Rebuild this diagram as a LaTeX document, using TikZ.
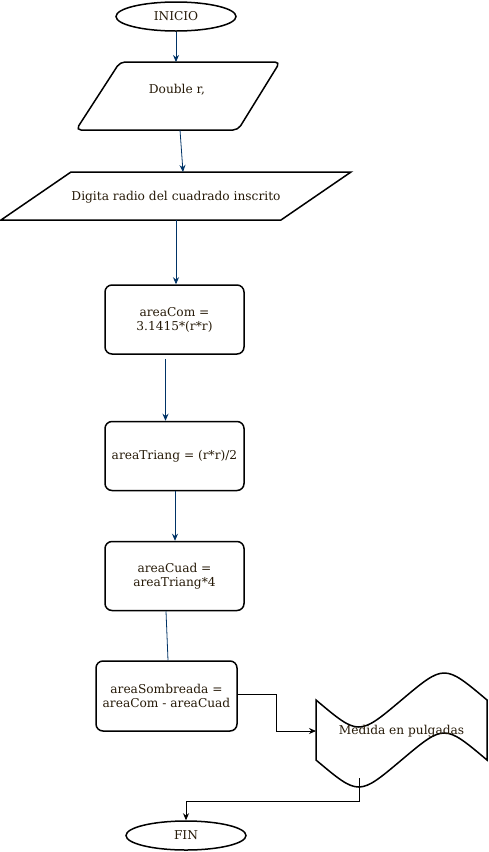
\documentclass[tikz,border=0pt]{standalone}
\usepackage{fontspec}
\setmainfont{DejaVu Serif}
\usetikzlibrary{shapes.geometric,arrows.meta}
\definecolor{azulflecha}{RGB}{0,51,102}
\definecolor{texto}{RGB}{38,26,8}
\begin{document}
\begin{tikzpicture}[x=1pt,y=-1pt,
        font=\fontsize{12.2}{14}\selectfont,
        terminal/.style={ellipse,draw,line width=1.5pt,minimum width=120pt,minimum height=29pt,inner sep=0pt,text=texto},
        caja/.style={rectangle,draw,rounded corners=7pt,line width=1.5pt,minimum width=139pt,minimum height=69pt,align=center,text=texto,inner sep=1pt},
        flecha/.style={azulflecha,line width=0.8pt,-{Stealth[length=7pt,width=6pt]}},
        linea/.style={black,line width=0.8pt}]
        \useasboundingbox (0,0) rectangle (488,852);
        %Inicio
        \node[terminal] (inicio) at (176,16.5) {INICIO};
        %Entrada de datos
        \draw[line width=1.5pt,rounded corners=5pt] (120,62) -- (280,62) -- (238,130) -- (76,130) -- cycle;
        \node[text=texto] (double) at (177,90) {Double r,};
        \coordinate (doubleArr) at (176,62);
        \coordinate (doubleAba) at (180,130);
        \draw[line width=1.5pt] (71,172) -- (351,172) -- (281,220) -- (1,220) -- cycle;
        \node[text=texto] (digita) at (176,197) {Digita radio del cuadrado inscrito};
        \coordinate (digitaArr) at (183,172);
        \coordinate (digitaAba) at (176,220);
        %Procesos
        \foreach \nom/\y/\txt in {areaCom/319.5/{areaCom =\\3.1415*(r*r)},
                areaTriang/456/{areaTriang = (r*r)/2},
                areaCuad/576/{areaCuad =\\areaTriang*4}}
            \node[caja] (\nom) at (174.5,\y) {\txt};
        \node[caja,minimum width=141pt,minimum height=70pt] (areaSom) at (166.5,696) {areaSombreada =\\areaCom - areaCuad};
        %Salida
        \draw[line width=1.5pt] (316,700) .. controls (358.75,736) .. (401.5,700)
            .. controls (444.25,664) .. (487,700) -- (487,760)
            .. controls (444.25,724) .. (401.5,760)
            .. controls (358.75,796) .. (316,760) -- cycle;
        \node[text=texto] (medida) at (401.5,731) {Medida en pulgadas};
        \coordinate (medidaIzq) at (316,731);
        \coordinate (medidaAba) at (359,778);
        %Fin
        \node[terminal] (fin) at (186,835.5) {FIN};
        %Conectores
        \draw[flecha] (inicio.south) -- (doubleArr);
        \draw[flecha] (doubleAba) -- (digitaArr);
        \draw[flecha] (digitaAba) -- (digitaAba |- areaCom.north);
        \draw[flecha] ([xshift=-9pt,yshift=-4pt]areaCom.south) -- ([xshift=-9pt]areaTriang.north);
        \draw[flecha] ([xshift=0.5pt]areaTriang.south) -- ([xshift=0.5pt]areaCuad.north);
        \draw[azulflecha,line width=0.8pt] ([xshift=-8.5pt]areaCuad.south) -- ([xshift=1.5pt]areaSom.north);
        \draw[linea,-{Stealth[length=7pt,width=6pt]}] ([yshift=2pt]areaSom.east) -- ++(39,0) |- (medidaIzq);
        \draw[linea,-{Stealth[length=7pt,width=6pt]}] (medidaAba) -- ++(0,23) -| (fin.north);
    \end{tikzpicture}
\end{document}
